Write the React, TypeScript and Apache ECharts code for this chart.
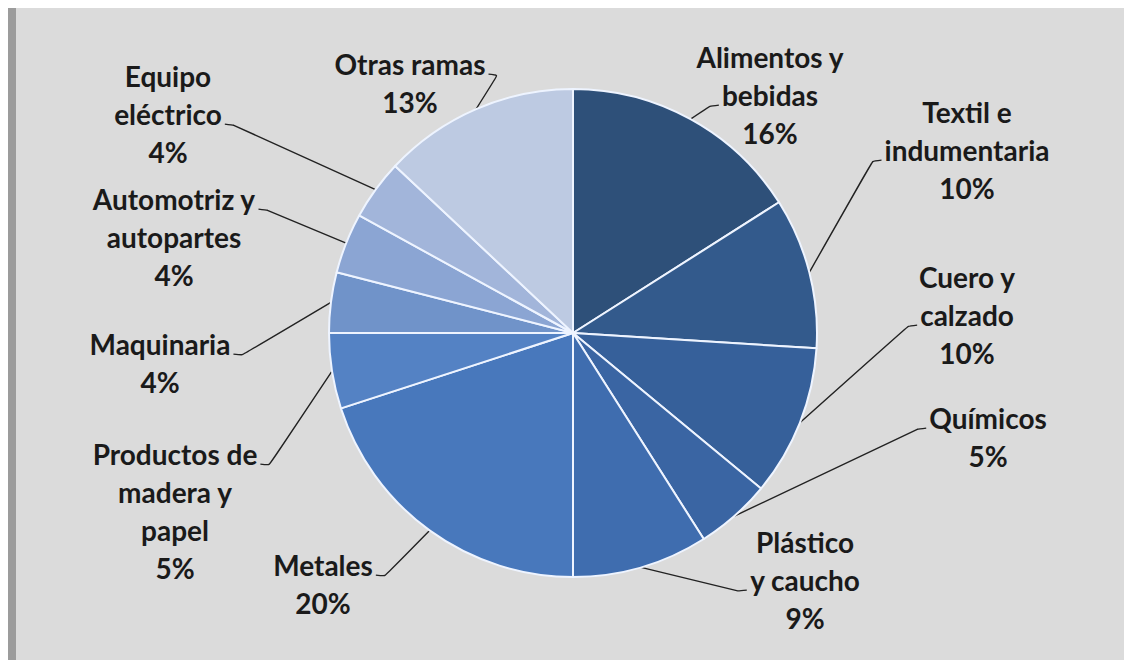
import React, { useEffect, useRef } from "react";
import * as echarts from "echarts";

// ---- data ----
const categories = [
  "Alimentos y\nbebidas",
  "Textil e\nindumentaria",
  "Cuero y\ncalzado",
  "Químicos",
  "Plástico\ny caucho",
  "Metales",
  "Productos de\nmadera y\npapel",
  "Maquinaria",
  "Automotriz y\nautopartes",
  "Equipo\neléctrico",
  "Otras ramas",
];
const shares = [16, 10, 10, 5, 9, 20, 5, 4, 4, 4, 13];

// ---- styles / layout ----
const sliceColors = [
  "#2e5079", "#335a8c", "#36609a", "#3a65a3", "#3f6daf", "#4878bc",
  "#5482c4", "#7093c9", "#8ba5d3", "#a2b5da", "#bdcae2",
];
// label block centres (chart coordinates)
const labelCenterX = [762, 959, 959, 980, 797, 315, 167, 152, 166, 160, 402];
const labelCenterY = [87, 142, 307, 429, 572, 576, 503, 355, 229, 106, 75];
// which text line the leader line reaches, and on which side
const anchorLine = [1, 1, 1, 0, 1, 0, 0, 0, 0, 1, 0];
const anchorSide = ["l", "l", "l", "l", "l", "r", "r", "r", "r", "r", "r"];

const FONT_SIZE = 28;
const LINE_H = 38;
const FONT_FAMILY = "Lato";

function measure(text: string): number {
  const c = document.createElement("canvas");
  const ctx = c.getContext("2d");
  if (!ctx) return text.length * 14;
  ctx.font = `bold ${FONT_SIZE}px ${FONT_FAMILY}`;
  return ctx.measureText(text).width;
}

export default function App() {
  const ref = useRef<HTMLDivElement>(null);

  useEffect(() => {
    if (!ref.current) return;
    const chart = echarts.init(ref.current, undefined, { renderer: "svg" });

    const data = categories.map((name, i) => ({
      name,
      value: shares[i],
      itemStyle: { color: sliceColors[i] },
    }));

    chart.setOption({
      animation: false,
      backgroundColor: "#dbdbdb",
      graphic: [
        {
          type: "rect",
          shape: { x: 0, y: 0, width: 8, height: 652 },
          style: { fill: "#9c9c9c" },
          silent: true,
        },
      ],
      series: [
        {
          type: "pie",
          center: [565, 325],
          radius: 244,
          startAngle: 90,
          clockwise: true,
          avoidLabelOverlap: false,
          data,
          itemStyle: { borderColor: "#eef4ff", borderWidth: 2 },
          label: {
            show: true,
            position: "outside",
            formatter: (p: any) => `${p.name}\n${p.value}%`,
            fontFamily: FONT_FAMILY,
            fontWeight: "bold",
            fontSize: FONT_SIZE,
            lineHeight: LINE_H,
            color: "#1a1a1a",
            align: "center",
          },
          labelLine: {
            show: true,
            length: 20,
            length2: 10,
            smooth: 0.15,
            lineStyle: { color: "#222222", width: 1.4 },
          },
          labelLayout: (params: any) => {
            const i = params.dataIndex;
            const cx = labelCenterX[i];
            const cy = labelCenterY[i];
            const lines = `${categories[i]}\n${shares[i]}%`.split("\n");
            const top = cy - (lines.length * LINE_H) / 2;
            const k = anchorLine[i];
            const baseY = top + LINE_H * k + LINE_H / 2 + FONT_SIZE * 0.36;
            const w = measure(lines[k]);
            const side = anchorSide[i];
            const ax = side === "l" ? cx - w / 2 - 3 : cx + w / 2 + 3;
            const bx = side === "l" ? ax - 9 : ax + 9;
            const p0 =
              params.labelLinePoints && params.labelLinePoints[0]
                ? params.labelLinePoints[0]
                : [ax, baseY];
            return {
              x: cx,
              y: cy,
              align: "center",
              verticalAlign: "middle",
              labelLinePoints: [p0, [bx, baseY + 1], [ax, baseY]],
            };
          },
        },
      ],
    });

    return () => chart.dispose();
  }, []);

  return <div ref={ref} style={{ width: 1124, height: 652 }} />;
}
